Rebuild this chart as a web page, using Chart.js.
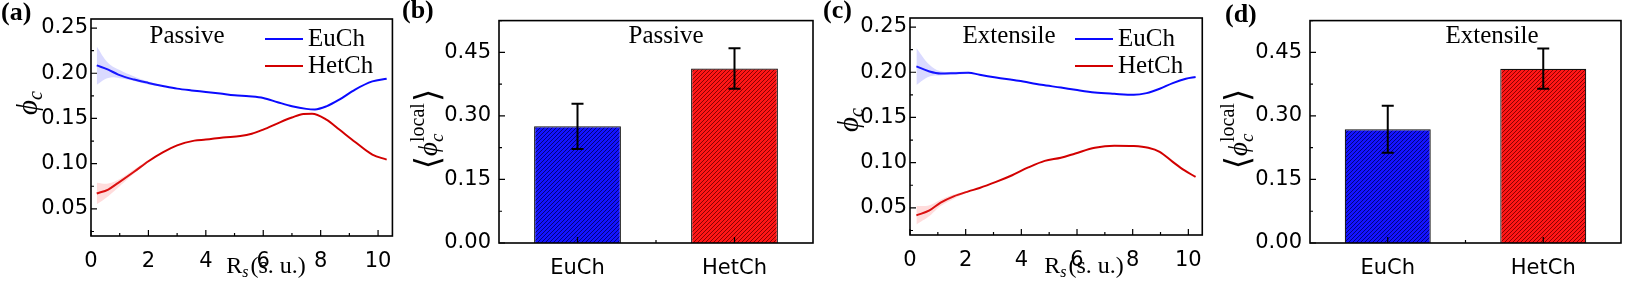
<!DOCTYPE html>
<html>
<head>
<meta charset="utf-8">
<script src="https://cdn.jsdelivr.net/npm/chart.js@4.4.0/dist/chart.umd.min.js"></script>
<style>
  body { margin: 0; background: #fff; width: 1627px; height: 287px; overflow: hidden; position: relative; }
  canvas { position: absolute; top: 0; }
</style>
</head>
<body>
<canvas id="pa" width="405" height="287" style="left:0px"></canvas>
<canvas id="pb" width="415" height="287" style="left:400px"></canvas>
<canvas id="pc" width="400" height="287" style="left:815px"></canvas>
<canvas id="pd" width="412" height="287" style="left:1215px"></canvas>
<script>
var SANS = "'DejaVu Sans', sans-serif";
var SERIF = "'Liberation Serif', 'DejaVu Serif', serif";

// (a) passive, phi_c vs R_s
var rsPasEu = [0.2, 0.6, 0.95, 1.5, 2.0, 2.5, 3.0, 3.5, 4.0, 4.5, 5.0, 5.5, 6.0, 6.5, 7.0, 7.5, 7.8, 8.2, 8.65, 9.2, 9.8, 10.3];
var phiPasEu = [0.2087, 0.204, 0.1985, 0.193, 0.1893, 0.186, 0.183, 0.181, 0.1793, 0.1775, 0.1756, 0.1745, 0.1727, 0.168, 0.1635, 0.1606, 0.160, 0.1634, 0.1708, 0.182, 0.191, 0.194];
var rsPasHet = [0.2, 0.6, 0.95, 1.5, 2.0, 2.5, 3.0, 3.6, 4.0, 4.6, 5.2, 5.6, 6.0, 6.6, 7.0, 7.4, 7.7, 8.2, 8.65, 9.2, 9.8, 10.3];
var phiPasHet = [0.067, 0.0714, 0.0788, 0.091, 0.1027, 0.1125, 0.1203, 0.1255, 0.1266, 0.129, 0.1305, 0.133, 0.1377, 0.146, 0.151, 0.155, 0.1553, 0.1487, 0.1377, 0.124, 0.110, 0.1045];
// shaded error bands (only visible at small R_s)
var bandPasEuX = [0.2, 0.6, 1.0, 1.5, 2.0, 2.5];
var bandPasEuHi = [0.2297, 0.2114, 0.2035, 0.1965, 0.191, 0.1865];
var bandPasEuLo = [0.1874, 0.1948, 0.1945, 0.1915, 0.1876, 0.1855];
var bandPasHetX = [0.2, 0.6, 1.0, 1.5, 2.0];
var bandPasHetHi = [0.079, 0.078, 0.083, 0.0935, 0.104];
var bandPasHetLo = [0.055, 0.064, 0.075, 0.089, 0.102];

// (c) extensile
var rsExtEu = [0.23, 0.7, 1.1, 1.57, 2.1, 2.5, 3.09, 3.9, 4.72, 5.42, 5.94, 6.64, 7.34, 8.04, 8.5, 8.97, 9.44, 9.91, 10.26];
var phiExtEu = [0.2065, 0.2009, 0.1987, 0.199, 0.1995, 0.1972, 0.1942, 0.1906, 0.1861, 0.1831, 0.1806, 0.1776, 0.1761, 0.175, 0.1769, 0.1817, 0.188, 0.1928, 0.1947];
var rsExtHet = [0.23, 0.7, 1.1, 1.57, 2.1, 2.5, 3.09, 3.67, 4.25, 4.84, 5.42, 5.94, 6.64, 7.34, 8.04, 8.56, 8.97, 9.44, 9.85, 10.26];
var phiExtHet = [0.0417, 0.0472, 0.0558, 0.0628, 0.0683, 0.072, 0.0787, 0.0861, 0.0947, 0.102, 0.1055, 0.1102, 0.1164, 0.1187, 0.1183, 0.1164, 0.112, 0.1009, 0.0917, 0.0842];
var bandExtEuX = [0.23, 0.7, 1.1, 1.6, 2.1];
var bandExtEuHi = [0.2269, 0.2083, 0.201, 0.2005, 0.2005];
var bandExtEuLo = [0.186, 0.1953, 0.1965, 0.1975, 0.198];
var bandExtHetX = [0.23, 0.7, 1.1, 1.6, 2.1];
var bandExtHetHi = [0.052, 0.053, 0.059, 0.065, 0.069];
var bandExtHetLo = [0.0317, 0.041, 0.052, 0.0605, 0.0675];

// (b),(d) bars
var chains = ['EuCh', 'HetCh'];
var localPas = [0.2755, 0.412];
var localPasErr = [0.0535, 0.048];
var localExt = [0.2685, 0.4115];
var localExtErr = [0.0555, 0.0475];

// axis ticks
var rsTicks = [0, 2, 4, 6, 8, 10];
var rsMinor = [1, 3, 5, 7, 9];
var phiTicks = [0.05, 0.10, 0.15, 0.20, 0.25];
var phiMinor = [0.025, 0.075, 0.125, 0.175, 0.225];
var localTicks = [0, 0.15, 0.30, 0.45];
var localMinor = [0.075, 0.225, 0.375, 0.525];

function pts(xs, ys) {
    return xs.map(function (x, i) { return { x: x, y: ys[i] }; });
}

function hatch(bg, fg) {
    var c = document.createElement('canvas');
    c.width = 4; c.height = 4;
    var g = c.getContext('2d');
    g.fillStyle = bg;
    g.fillRect(0, 0, 4, 4);
    g.strokeStyle = fg;
    g.lineWidth = 0.9;
    g.beginPath();
    for (var k = -4; k <= 4; k += 4) { g.moveTo(k, 4); g.lineTo(k + 4, 0); }
    g.stroke();
    return g.createPattern(c, 'repeat');
}

// text with sub/superscripts, centred on (x, y)
function rich(ctx, parts, x, y, rot) {
    ctx.save();
    ctx.translate(x, y);
    if (rot) ctx.rotate(rot);
    ctx.textAlign = 'left';
    ctx.textBaseline = 'alphabetic';
    ctx.fillStyle = '#000';
    var w = 0;
    parts.forEach(function (p) {
        ctx.font = p.f;
        p.w = ctx.measureText(p.t).width;
        if (!p.stack) w += p.w + (p.gap || 0);
    });
    var cx = -w / 2;
    parts.forEach(function (p) {
        ctx.font = p.f;
        ctx.fillText(p.t, cx, p.dy || 0);
        if (!p.stack) cx += p.w + (p.gap || 0);
    });
    ctx.restore();
}

var decor = {
    id: 'decor',
    afterDatasetsDraw: function (chart, args, o) {
        if (!o.err) return;
        var ctx = chart.ctx, ys = chart.scales.y;
        var meta = chart.getDatasetMeta(0);
        var vals = chart.data.datasets[0].data;
        ctx.save();
        ctx.strokeStyle = '#000';
        ctx.lineWidth = 2;
        ctx.beginPath();
        meta.data.forEach(function (bar, i) {
            var hi = ys.getPixelForValue(vals[i] + o.err[i]);
            var lo = ys.getPixelForValue(vals[i] - o.err[i]);
            ctx.moveTo(bar.x, hi); ctx.lineTo(bar.x, lo);
            ctx.moveTo(bar.x - 6, hi); ctx.lineTo(bar.x + 6, hi);
            ctx.moveTo(bar.x - 6, lo); ctx.lineTo(bar.x + 6, lo);
        });
        ctx.stroke();
        ctx.restore();
    },
    afterDraw: function (chart, args, o) {
        var ctx = chart.ctx, a = chart.chartArea;
        var xs = chart.scales.x, ys = chart.scales.y;
        ctx.save();
        ctx.strokeStyle = '#000';
        ctx.lineWidth = 1.2;
        ctx.beginPath();
        o.xMajor.forEach(function (v) { var p = xs.getPixelForValue(v); ctx.moveTo(p, a.bottom); ctx.lineTo(p, a.bottom - 6); });
        o.xMinor.forEach(function (v) { var p = xs.getPixelForValue(v); ctx.moveTo(p, a.bottom); ctx.lineTo(p, a.bottom - 3); });
        o.yMajor.forEach(function (v) { var p = ys.getPixelForValue(v); ctx.moveTo(a.left, p); ctx.lineTo(a.left + 6, p); });
        o.yMinor.forEach(function (v) { var p = ys.getPixelForValue(v); ctx.moveTo(a.left, p); ctx.lineTo(a.left + 3, p); });
        ctx.stroke();
        ctx.lineWidth = 1.6;
        ctx.strokeRect(a.left, a.top, a.right - a.left, a.bottom - a.top);

        ctx.fillStyle = '#000';
        ctx.textAlign = 'left';
        ctx.textBaseline = 'alphabetic';
        ctx.font = 'bold 26px ' + SERIF;
        ctx.fillText(o.panel[0], o.panel[1], o.panel[2]);

        ctx.textAlign = 'center';
        ctx.font = '25px ' + SERIF;
        ctx.fillText(o.note[0], o.note[1], o.note[2]);

        if (o.legend) {
            chart.data.datasets.filter(function (d) { return d.label; }).forEach(function (d, i) {
                var y = o.legend[1] + i * 27;
                ctx.strokeStyle = d.borderColor;
                ctx.lineWidth = 2;
                ctx.beginPath();
                ctx.moveTo(o.legend[0], y); ctx.lineTo(o.legend[0] + 38, y);
                ctx.stroke();
                ctx.textAlign = 'left';
                ctx.font = '25px ' + SERIF;
                ctx.fillText(d.label, o.legend[0] + 43, y + 7);
            });
        }
        ctx.restore();

        o.titles.forEach(function (t) { rich(ctx, t.parts, t.x, t.y, t.rot); });
    }
};

function rsTitle(x) {
    return {
        x: x, y: 273, parts: [
            { t: 'R', f: '24px ' + SERIF },
            { t: 's', f: 'italic 16px ' + SERIF, dy: 4, gap: 2 },
            { t: '(s. u.)', f: '24px ' + SERIF }
        ]
    };
}

function phiTitle(x, y) {
    return {
        x: x, y: y, rot: -Math.PI / 2, parts: [
            { t: 'ϕ', f: 'italic 29px ' + SERIF, dy: 7 },
            { t: 'c', f: 'italic 20px ' + SERIF, dy: 12 }
        ]
    };
}

function localTitle(x, y) {
    return {
        x: x, y: y, rot: -Math.PI / 2, parts: [
            { t: '⟨', f: '34px ' + SERIF, dy: 10 },
            { t: 'ϕ', f: 'italic 27px ' + SERIF, dy: 8 },
            { t: 'c', f: 'italic 19px ' + SERIF, dy: 14, stack: true },
            { t: 'local', f: '20px ' + SERIF, dy: -5, gap: 1 },
            { t: '⟩', f: '34px ' + SERIF, dy: 10 }
        ]
    };
}

function axes(box, xMin, xMax, yMin, yMax, xTicks, yTicks, yPad, xCat) {
    var x = {
        grid: { display: false, drawTicks: false },
        border: { display: false },
        ticks: { color: '#000', font: { family: SANS, size: 21 }, padding: 13 },
        afterFit: function (s) { s.height = 287 - box.bottom; }
    };
    if (!xCat) {
        x.type = 'linear';
        x.min = xMin; x.max = xMax;
        x.ticks.callback = function (v) { return String(v); };
        x.afterBuildTicks = function (s) { s.ticks = xTicks.map(function (v) { return { value: v }; }); };
    }
    var y = {
        min: yMin, max: yMax,
        grid: { display: false, drawTicks: false },
        border: { display: false },
        ticks: { color: '#000', font: { family: SANS, size: 21 }, padding: yPad, callback: function (v) { return v.toFixed(2); } },
        afterBuildTicks: function (s) { s.ticks = yTicks.map(function (v) { return { value: v }; }); },
        afterFit: function (s) { s.width = box.left - box.ox; }
    };
    return { x: x, y: y };
}

function lineChart(id, box, eu, het, bandEu, bandHet, deco) {
    var ds = [
        { data: pts(bandEu[0], bandEu[1]), fill: '+1', backgroundColor: 'rgba(70,70,255,0.2)', borderWidth: 0, pointRadius: 0, tension: 0.4 },
        { data: pts(bandEu[0], bandEu[2]), fill: false, borderWidth: 0, pointRadius: 0, tension: 0.4 },
        { data: pts(bandHet[0], bandHet[1]), fill: '+1', backgroundColor: 'rgba(255,80,80,0.2)', borderWidth: 0, pointRadius: 0, tension: 0.4 },
        { data: pts(bandHet[0], bandHet[2]), fill: false, borderWidth: 0, pointRadius: 0, tension: 0.4 },
        { label: 'EuCh', data: pts(eu[0], eu[1]), borderColor: '#0a0aff', borderWidth: 2, pointRadius: 0, fill: false, cubicInterpolationMode: 'monotone' },
        { label: 'HetCh', data: pts(het[0], het[1]), borderColor: '#d20000', borderWidth: 2, pointRadius: 0, fill: false, cubicInterpolationMode: 'monotone' }
    ];
    deco.xMajor = rsTicks; deco.xMinor = rsMinor;
    deco.yMajor = phiTicks; deco.yMinor = phiMinor;
    return new Chart(document.getElementById(id), {
        type: 'line',
        data: { datasets: ds },
        options: {
            responsive: false, animation: false, devicePixelRatio: 1,
            layout: { padding: { left: 0, top: box.top, right: box.ox + box.w - box.right, bottom: 0 } },
            plugins: { legend: { display: false }, tooltip: { enabled: false }, decor: deco },
            scales: axes(box, 0, 10.5, 0.02, 0.26, rsTicks, phiTicks, 3, false)
        },
        plugins: [decor]
    });
}

function barChart(id, box, vals, errs, deco) {
    deco.xMajor = [0, 1]; deco.xMinor = [0.5];
    deco.yMajor = localTicks; deco.yMinor = localMinor;
    deco.err = errs;
    return new Chart(document.getElementById(id), {
        type: 'bar',
        data: {
            labels: chains,
            datasets: [{
                data: vals,
                backgroundColor: [hatch('#1414ff', '#00006e'), hatch('#ff1616', '#7a0000')],
                borderColor: '#111', borderWidth: 1.2,
                barPercentage: 0.553, categoryPercentage: 1
            }]
        },
        options: {
            responsive: false, animation: false, devicePixelRatio: 1,
            layout: { padding: { left: 0, top: box.top, right: box.ox + box.w - box.right, bottom: 0 } },
            plugins: { legend: { display: false }, tooltip: { enabled: false }, decor: deco },
            scales: axes(box, 0, 0, 0, 0.525, null, localTicks, 8, true)
        },
        plugins: [decor]
    });
}

// boxes in page pixels; ox/w are the canvas offset and width, texts use canvas coordinates
lineChart('pa', { ox: 0, w: 405, left: 91, top: 19, right: 393, bottom: 236 },
    [rsPasEu, phiPasEu], [rsPasHet, phiPasHet],
    [bandPasEuX, bandPasEuHi, bandPasEuLo], [bandPasHetX, bandPasHetHi, bandPasHetLo],
    { panel: ['(a)', 1, 20], note: ['Passive', 187, 43], legend: [265, 39], titles: [rsTitle(266), phiTitle(30, 103)] });

barChart('pb', { ox: 400, w: 415, left: 499, top: 14, right: 813, bottom: 243 }, localPas, localPasErr,
    { panel: ['(b)', 2, 18], note: ['Passive', 266, 43], titles: [localTitle(29, 129)] });

lineChart('pc', { ox: 815, w: 400, left: 910, top: 18, right: 1209, bottom: 235 },
    [rsExtEu, phiExtEu], [rsExtHet, phiExtHet],
    [bandExtEuX, bandExtEuHi, bandExtEuLo], [bandExtHetX, bandExtHetHi, bandExtHetLo],
    { panel: ['(c)', 8, 18], note: ['Extensile', 194, 43], legend: [260, 39], titles: [rsTitle(269), phiTitle(36, 120)] });

barChart('pd', { ox: 1215, w: 412, left: 1310, top: 14, right: 1621, bottom: 243 }, localExt, localExtErr,
    { panel: ['(d)', 10, 22], note: ['Extensile', 277, 43], titles: [localTitle(24, 129)] });
</script>
</body>
</html>
